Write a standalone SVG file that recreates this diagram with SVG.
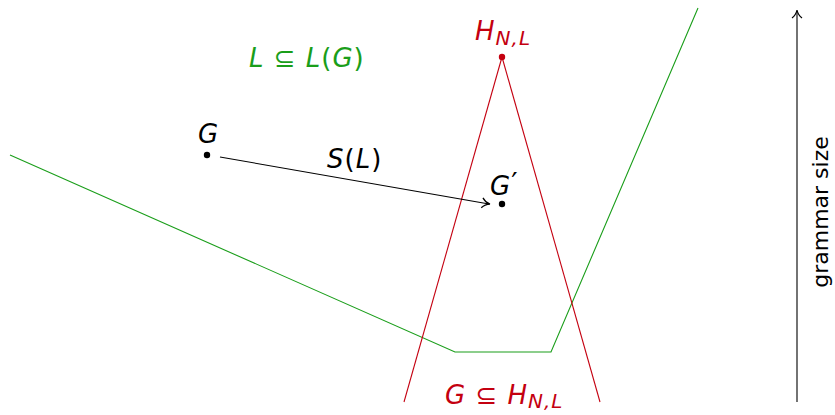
<svg xmlns="http://www.w3.org/2000/svg" width="835" height="415" viewBox="0 0 835 415">
<defs>
<style>
.m{font-family:"DejaVu Sans","Open Sans",sans-serif;font-style:italic;font-size:26px;letter-spacing:1px}
.n{font-style:normal}
.u{font-family:"DejaVu Sans","Open Sans",sans-serif;font-size:22px}
.g{fill:#1a9e1a}
.r{fill:#c40010}
.k{fill:#000}
.ln{fill:none;stroke-width:1.1}
</style>
<marker id="ah" markerWidth="12" markerHeight="12" refX="9" refY="6" orient="auto" markerUnits="userSpaceOnUse">
<path d="M2,1 Q5,5 10,6 Q5,7 2,11" fill="none" stroke="#000" stroke-width="1.2"/>
</marker>
</defs>
<rect width="835" height="415" fill="#fff"/>
<g id="connectors">
<polyline class="ln" stroke="#1a9e1a" points="10,155 455,352 551,352 698,8"/>
<line class="ln" stroke="#c40010" x1="502" y1="57" x2="404" y2="402"/>
<line class="ln" stroke="#c40010" x1="502" y1="57" x2="600" y2="402"/>
<line class="ln" stroke="#000" x1="220" y1="157" x2="489" y2="204" marker-end="url(#ah)"/>
<line class="ln" stroke="#000" stroke-width="1.5" x1="797" y1="402" x2="797" y2="11" marker-end="url(#ah)"/>
</g>
<g id="label-LG"><text class="m g" x="249" y="67">L <tspan class="n">⊆</tspan> L<tspan class="n">(</tspan>G<tspan class="n">)</tspan></text></g>
<g id="node-H"><circle cx="502" cy="57" r="3.2" fill="#c40010"/><text class="m r" x="475" y="40">H<tspan font-size="20" dy="5">N,L</tspan></text></g>
<g id="node-G"><circle cx="207" cy="155" r="3.2" fill="#000"/><text class="m k" x="198" y="143">G</text></g>
<g id="node-Gp"><circle cx="502" cy="204" r="3.2" fill="#000"/><text class="m k" x="490" y="195">G<tspan class="n" font-size="28" dy="-2">′</tspan></text></g>
<g id="label-SL"><text class="m k" x="327" y="168">S<tspan class="n">(</tspan>L<tspan class="n">)</tspan></text></g>
<g id="label-GH"><text class="m r" x="445" y="404">G <tspan class="n">⊆</tspan> H<tspan font-size="20" dy="4">N,L</tspan></text></g>
<g id="axis-label"><text class="u k" transform="translate(828,212) rotate(-90)" text-anchor="middle">grammar size</text></g>
</svg>
